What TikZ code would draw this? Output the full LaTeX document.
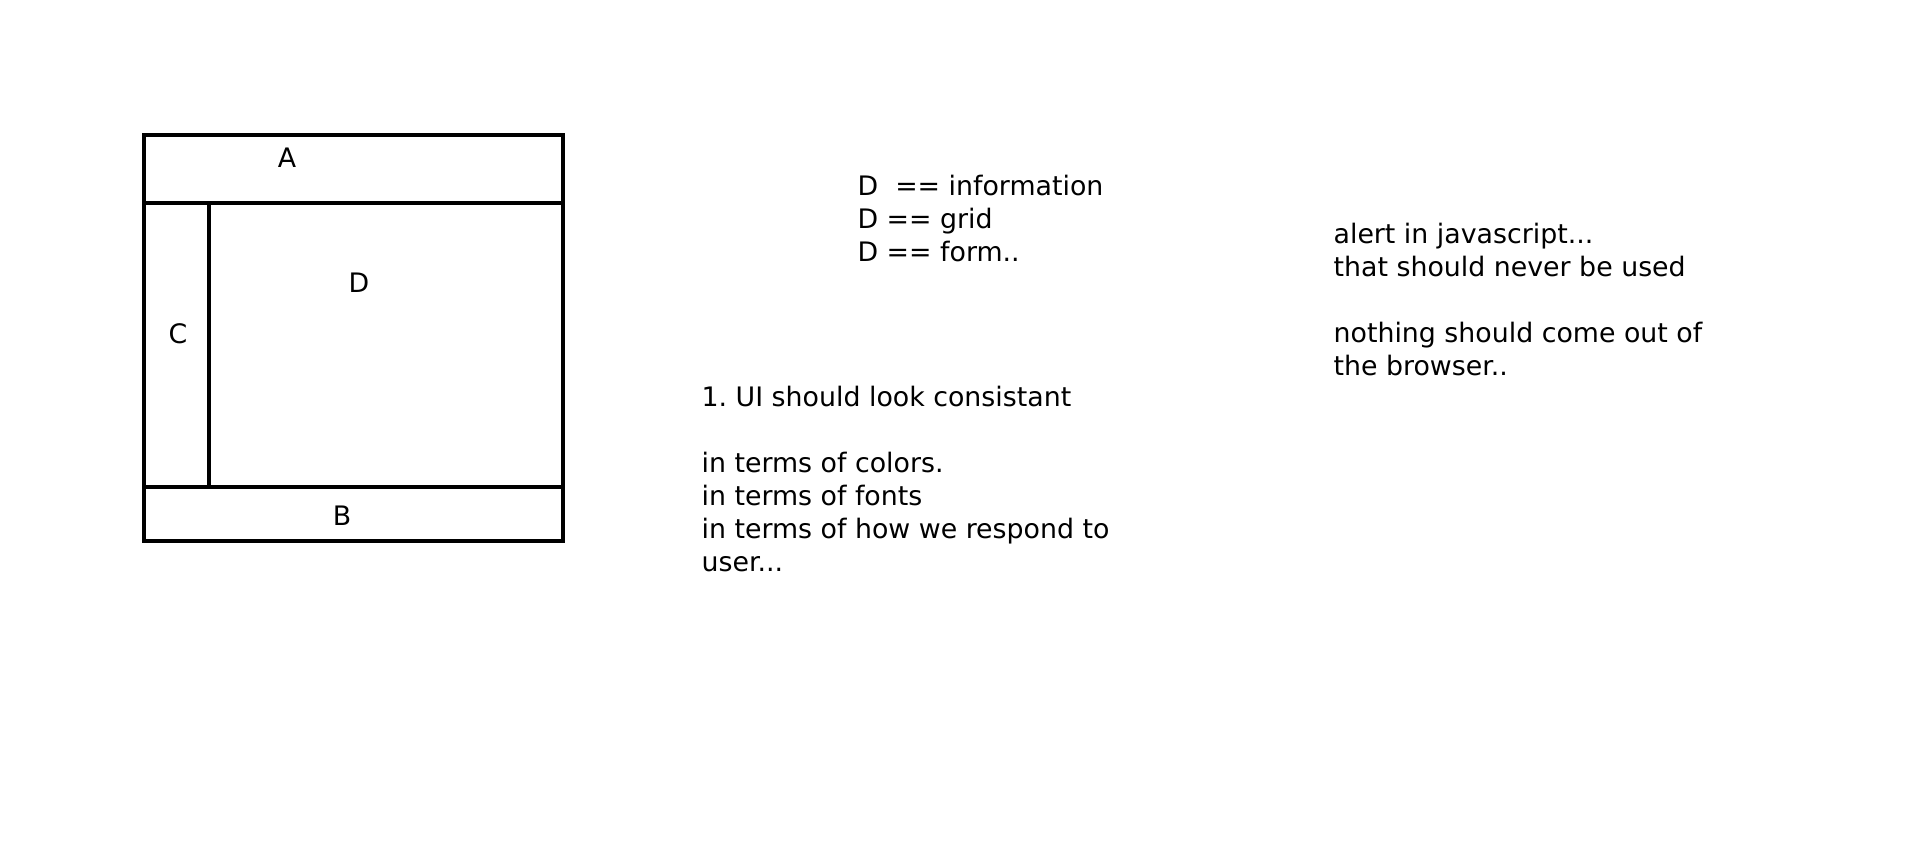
\documentclass[tikz,border=0pt]{standalone}
\usepackage{fontspec}
\setmainfont{DejaVu Sans}
\usepackage{tikz}
\usetikzlibrary{positioning}
\frenchspacing

\begin{document}
\begin{tikzpicture}[
            x = 0.5pt, y = -0.5pt, % one unit per pixel
            frame/.style = {line width = 2.3pt, line cap = rect},
            semithick
        ]

        \tikzstyle{every node}=[
            inner sep = 0pt,
            font = \fontsize{13.4}{16.5}\selectfont
        ]
        \tikzstyle{notes}=[
            align = left,
            anchor = base west % baseline of the last line
        ]

        \useasboundingbox (0,0) rectangle (1914,847);

	% page layout
        \draw[frame] (144,135) rectangle (563,541);
        \draw[frame] (144,203) -- (563,203);
        \draw[frame] (144,487) -- (563,487);
        \draw[frame] (209,203) -- (209,487);

        % regions
        \node (A) [anchor = base] at (287,167) {A};
        \node (D) [anchor = base] at (359,292) {D};
        \node (C) [anchor = base] at (178,343) {C};
        \node (B) [anchor = base] at (342,525) {B};

        % notes
        \node[notes] (DN) at (857,261) {D\ \ == information\\D == grid\\D == form..};
        \node[notes] (UI) at (701,571) {1. UI should look consistant\\[16.5pt]
            in terms of colors.\\in terms of fonts\\in terms of how we respond to\\user...};
        \node[notes] (JS) at (1333,375) {alert in javascript...\\that should never be used\\[16.5pt]
            nothing should come out of\\the browser..};

  \end{tikzpicture}
\end{document}
